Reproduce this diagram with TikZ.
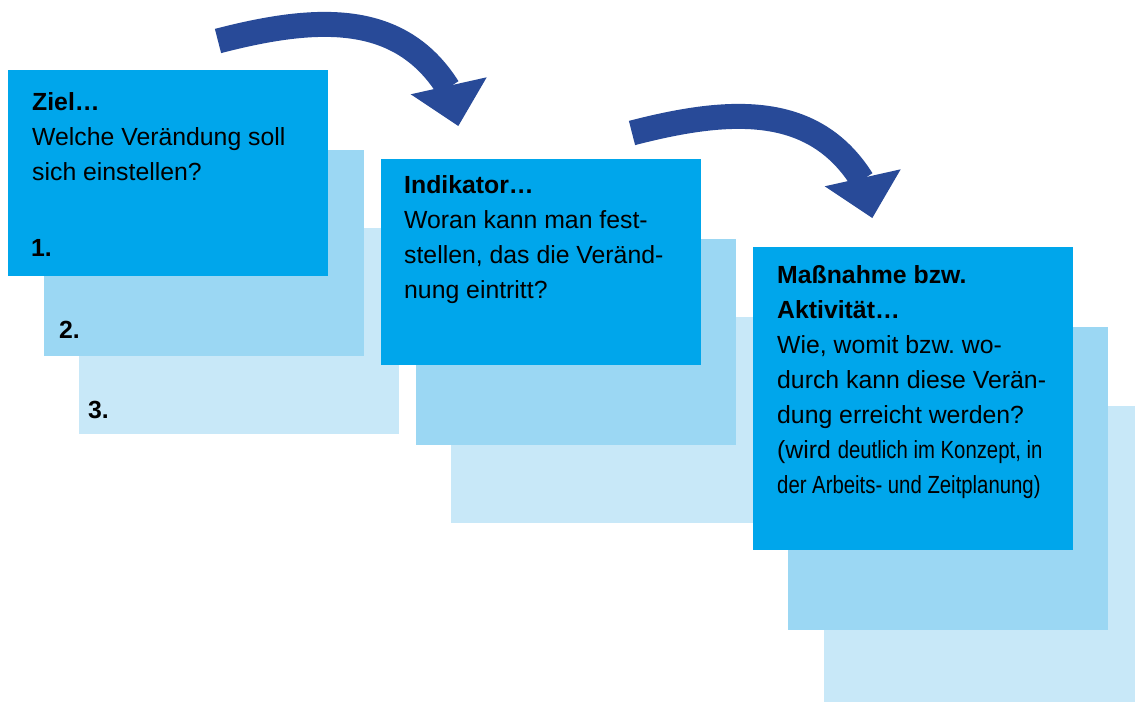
\documentclass[tikz,border=0pt]{standalone}
\usepackage{fontspec}
\setmainfont{Liberation Sans}
\newfontfamily\narrowfont[FakeStretch=0.82]{Liberation Sans}
\frenchspacing
\definecolor{frontc}{RGB}{0,166,235}
\definecolor{midc}{RGB}{155,215,243}
\definecolor{backc}{RGB}{200,232,248}
\definecolor{arrowc}{RGB}{40,74,152}
\begin{document}
\begin{tikzpicture}[x=1pt,y=-1pt,
  frontbox/.style={fill=frontc},
  midbox/.style={fill=midc},
  backbox/.style={fill=backc},
  txt/.style={anchor=base west, inner sep=0pt, font=\fontsize{24.8}{35}\selectfont\frenchspacing},
  boldtxt/.style={anchor=base west, inner sep=0pt, font=\fontsize{24.8}{35}\selectfont\bfseries\frenchspacing},
  shaft/.style={draw=arrowc, line width=25pt},
  headtip/.style={fill=arrowc}]
\useasboundingbox[fill=white] (0,0) rectangle (1135,702);

% group 1
\fill[backbox]  (79,228) rectangle (399,434);
\fill[midbox]   (44,150) rectangle (364,356);
\fill[frontbox] (8,70)   rectangle (328,276);
\node[boldtxt] (g1title) at (32,110) {Ziel…};
\node[txt] (g1l1) at (32,145) {Welche Verändung soll};
\node[txt] (g1l2) at (32,180) {sich einstellen?};
\node[boldtxt] (n1) at (31,256) {1.};
\node[boldtxt] (n2) at (59,338) {2.};
\node[boldtxt] (n3) at (88,418) {3.};

% group 2
\fill[backbox]  (451,317) rectangle (771,523);
\fill[midbox]   (416,239) rectangle (736,445);
\fill[frontbox] (381,159) rectangle (701,365);
\node[boldtxt] (g2title) at (404,193) {Indikator…};
\node[txt] (g2l1) at (404,228) {Woran kann man fest-};
\node[txt] (g2l2) at (404,263) {stellen, das die Veränd-};
\node[txt] (g2l3) at (404,298) {nung eintritt?};

% group 3
\fill[backbox]  (824,406) rectangle (1135,702);
\fill[midbox]   (788,327) rectangle (1108,630);
\fill[frontbox] (753,247) rectangle (1073,550);
\node[boldtxt] (g3title1) at (777,283) {Maßnahme bzw.};
\node[boldtxt] (g3title2) at (777,318) {Aktivität…};
\node[txt] (g3l1) at (777,353) {Wie, womit bzw.\ wo-};
\node[txt] (g3l2) at (777,388) {durch kann diese Verän-};
\node[txt] (g3l3) at (777,423) {dung erreicht werden?};
\node[txt] (g3l4) at (777,458) {(wird {\narrowfont deutlich im Konzept, in}};
\node[txt] (g3l5) at (777,493) {\narrowfont der Arbeits- und Zeitplanung)};

% arrow 1
\coordinate (a1s) at (218,41);
\coordinate (a1e) at (448,88);
\draw[shaft] (a1s) .. controls (318,15) and (400,12) .. (a1e);
\fill[headtip] (410.7,94.3) -- (486.7,77.3) -- (458.3,126) -- cycle;

% arrow 2
\coordinate (a2s) at (632,133);
\coordinate (a2e) at (862,180);
\draw[shaft] (a2s) .. controls (732,107) and (814,104) .. (a2e);
\fill[headtip] (824.7,186.3) -- (900.7,169.3) -- (872.3,218) -- cycle;
\end{tikzpicture}
\end{document}
